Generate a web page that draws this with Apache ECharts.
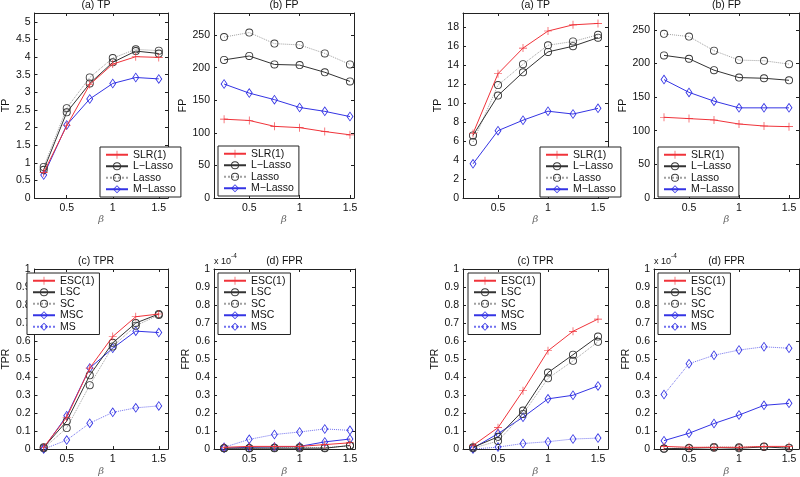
<!DOCTYPE html>
<html><head><meta charset="utf-8">
<script src="https://cdn.jsdelivr.net/npm/echarts@6/dist/echarts.min.js"></script>
<style>html,body{margin:0;padding:0;background:#fff}#c{width:800px;height:477px}</style>
</head><body><div id="c"></div>
<script>
// ---------- data ----------
const beta = [0.25, 0.5, 0.75, 1, 1.25, 1.5];
const xTicks = [0.5, 1, 1.5];
const yTicksTP1 = [0, 0.5, 1, 1.5, 2, 2.5, 3, 3.5, 4, 4.5, 5];
const yTicksFP = [0, 50, 100, 150, 200, 250];
const yTicksTP2 = [0, 2, 4, 6, 8, 10, 12, 14, 16, 18];
const yTicksRate = [0, 0.1, 0.2, 0.3, 0.4, 0.5, 0.6, 0.7, 0.8, 0.9, 1];

// (a) TP - left
const tp1_SLR = [0.72, 2.05, 3.22, 3.80, 4.01, 3.99];
const tp1_LLasso = [0.80, 2.43, 3.25, 3.85, 4.17, 4.10];
const tp1_Lasso = [0.88, 2.55, 3.42, 3.97, 4.22, 4.18];
const tp1_MLasso = [0.65, 2.07, 2.81, 3.25, 3.42, 3.38];
// (b) FP - left
const fp1_SLR = [121, 119, 110, 108, 102, 97];
const fp1_LLasso = [212, 218, 205, 204, 193, 179];
const fp1_Lasso = [247, 254, 237, 235, 222, 205];
const fp1_MLasso = [175, 161, 151, 139, 133, 125];
// (a) TP - right
const tp2_SLR = [6.8, 13.1, 15.8, 17.6, 18.25, 18.4];
const tp2_LLasso = [6.6, 10.8, 13.25, 15.4, 16.0, 16.9];
const tp2_Lasso = [5.9, 11.9, 14.1, 16.1, 16.5, 17.2];
const tp2_MLasso = [3.6, 7.1, 8.2, 9.15, 8.85, 9.45];
// (b) FP - right
const fp2_SLR = [120, 118, 116, 110, 107, 106];
const fp2_LLasso = [212, 207, 190, 179, 178, 175];
const fp2_Lasso = [244, 240, 219, 205, 204, 199];
const fp2_MLasso = [176, 157, 144, 134, 134, 134];
// (c) TPR - left
const tpr1_ESC = [0.01, 0.177, 0.45, 0.625, 0.735, 0.75];
const tpr1_LSC = [0.01, 0.155, 0.41, 0.59, 0.70, 0.75];
const tpr1_SC = [0.005, 0.117, 0.355, 0.57, 0.685, 0.745];
const tpr1_MSC = [0.005, 0.185, 0.45, 0.56, 0.655, 0.647];
const tpr1_MS = [0.0, 0.05, 0.144, 0.204, 0.229, 0.24];
// (d) FPR (x 10^-4) - left
const fpr1_ESC = [0.01, 0.015, 0.015, 0.015, 0.025, 0.035];
const fpr1_LSC = [0.005, 0.005, 0.005, 0.005, 0.005, 0.02];
const fpr1_SC = [0.005, 0.005, 0.008, 0.01, 0.008, 0.018];
const fpr1_MSC = [0.005, 0.01, 0.012, 0.015, 0.04, 0.056];
const fpr1_MS = [0.01, 0.054, 0.081, 0.095, 0.112, 0.104];
// (c) TPR - right
const tpr2_ESC = [0.02, 0.119, 0.324, 0.546, 0.654, 0.722];
const tpr2_LSC = [0.01, 0.068, 0.214, 0.425, 0.524, 0.625];
const tpr2_SC = [0.005, 0.045, 0.195, 0.393, 0.49, 0.596];
const tpr2_MSC = [0.005, 0.086, 0.177, 0.279, 0.299, 0.351];
const tpr2_MS = [0.0, 0.011, 0.031, 0.041, 0.056, 0.061];
// (d) FPR (x 10^-4) - right
const fpr2_ESC = [0.015, 0.01, 0.01, 0.01, 0.015, 0.015];
const fpr2_LSC = [0.002, 0.005, 0.008, 0.005, 0.012, 0.005];
const fpr2_SC = [0.003, 0.006, 0.012, 0.01, 0.015, 0.008];
const fpr2_MSC = [0.047, 0.088, 0.142, 0.189, 0.243, 0.254];
const fpr2_MS = [0.303, 0.474, 0.521, 0.55, 0.568, 0.56];

const namesTop = ['SLR(1)', 'L\u2212Lasso', 'Lasso', 'M\u2212Lasso'];
const namesBot = ['ESC(1)', 'LSC', 'SC', 'MSC', 'MS'];

// ---------- styles ----------
const FONT = 'Liberation Sans, Arial, sans-serif';
const RED = '#f0333a', BLK = '#333', GRY = '#a0a0a0', BLU = '#3434e4';
const PLUS = 'path://M4.6,0H5.4V4.6H10V5.4H5.4V10H4.6V5.4H0V4.6H4.6Z';
const RING = 'path://M5,0A5,5 0 1 1 5,10A5,5 0 1 1 5,0Z M5,1.1A3.9,3.9 0 1 0 5,8.9A3.9,3.9 0 1 0 5,1.1Z';
const DIAM = 'path://M5,0L10,5L5,10L0,5Z M5,1.3L1.6,5L5,8.7L8.4,5Z';
const styles = {
  red: {color: RED, symbol: PLUS, symbolSize: 8, type: 'solid', lc: RED},
  blkO: {color: BLK, symbol: RING, symbolSize: 8, type: 'solid', lc: BLK},
  gryO: {color: '#3a3a3a', symbol: RING, symbolSize: 8, type: 'dotted', lc: GRY},
  bluD: {color: BLU, symbol: DIAM, symbolSize: [7, 10], type: 'solid', lc: BLU},
  bluDd: {color: BLU, symbol: DIAM, symbolSize: [7, 10], type: 'dotted', lc: '#7070ee'}
};
const topStyles = ['red', 'blkO', 'gryO', 'bluD'];
const botStyles = ['red', 'blkO', 'gryO', 'bluD', 'bluDd'];

const panels = [
  {g: [24, 13, 144, 185], x: [0.15, 1.6], y: [0, 5.25], yt: yTicksTP1, title: '(a) TP', yn: 'TP', yg: 18, lg: [100, 147], names: namesTop, st: topStyles, d: [tp1_SLR, tp1_LLasso, tp1_Lasso, tp1_MLasso]},
  {g: [214, 13, 140, 185], x: [0.15, 1.54], y: [0, 284], yt: yTicksFP, title: '(b) FP', yn: 'FP', yg: 21, lg: [218, 146], names: namesTop, st: topStyles, d: [fp1_SLR, fp1_LLasso, fp1_Lasso, fp1_MLasso]},
  {g: [463, 13, 145, 185], x: [0.15, 1.6], y: [0, 19.5], yt: yTicksTP2, title: '(a) TP', yn: 'TP', yg: 17, lg: [540, 147], names: namesTop, st: topStyles, d: [tp2_SLR, tp2_LLasso, tp2_Lasso, tp2_MLasso]},
  {g: [654, 13, 145, 185], x: [0.15, 1.6], y: [0, 275], yt: yTicksFP, title: '(b) FP', yn: 'FP', yg: 24, lg: [658, 147], names: namesTop, st: topStyles, d: [fp2_SLR, fp2_LLasso, fp2_Lasso, fp2_MLasso]},
  {g: [24, 269, 144, 185], x: [0.15, 1.6], y: [0, 1], yt: yTicksRate, title: '(c) TPR', yn: 'TPR', yg: 19, lg: [27, 273], names: namesBot, st: botStyles, d: [tpr1_ESC, tpr1_LSC, tpr1_SC, tpr1_MSC, tpr1_MS]},
  {g: [214, 269, 141, 185], x: [0.15, 1.55], y: [0, 1], yt: yTicksRate, title: '(d) FPR', yn: 'FPR', yg: 21, lg: [218, 273], names: namesBot, st: botStyles, d: [fpr1_ESC, fpr1_LSC, fpr1_SC, fpr1_MSC, fpr1_MS], exp: true},
  {g: [463, 269, 145, 185], x: [0.15, 1.6], y: [0, 1], yt: yTicksRate, title: '(c) TPR', yn: 'TPR', yg: 21, lg: [468, 273], names: namesBot, st: botStyles, d: [tpr2_ESC, tpr2_LSC, tpr2_SC, tpr2_MSC, tpr2_MS]},
  {g: [654, 269, 145, 185], x: [0.15, 1.6], y: [0, 1], yt: yTicksRate, title: '(d) FPR', yn: 'FPR', yg: 22, lg: [658, 273], names: namesBot, st: botStyles, d: [fpr2_ESC, fpr2_LSC, fpr2_SC, fpr2_MSC, fpr2_MS], exp: true}
];

const grid = [], xAxis = [], yAxis = [], series = [], legend = [], title = [], graphic = [];
const axLine = {show: true, onZero: false, lineStyle: {color: '#222', width: 1}};
const tickIn = (vals) => ({show: true, inside: true, length: 3, customValues: vals, lineStyle: {color: '#222'}});
const lblStyle = {color: '#111', fontSize: 10.5, fontFamily: FONT};

panels.forEach((p, i) => {
  grid.push({left: p.g[0], top: p.g[1], width: p.g[2], height: p.g[3], show: false, containLabel: false});
  xAxis.push({type: 'value', gridIndex: i, min: p.x[0], max: p.x[1], position: 'bottom', axisLine: axLine,
    axisTick: tickIn(xTicks), splitLine: {show: false},
    axisLabel: Object.assign({customValues: xTicks, margin: 5}, lblStyle),
    name: '\u03b2', nameLocation: 'middle', nameGap: 16,
    nameTextStyle: {fontStyle: 'italic', color: '#666', fontSize: 10, fontFamily: 'DejaVu Serif, serif'}});
  xAxis.push({type: 'value', gridIndex: i, min: p.x[0], max: p.x[1], position: 'top', axisLine: axLine,
    axisTick: tickIn(xTicks), axisLabel: {show: false}, splitLine: {show: false}});
  yAxis.push({type: 'value', gridIndex: i, min: p.y[0], max: p.y[1], position: 'left', axisLine: axLine,
    axisTick: tickIn(p.yt), splitLine: {show: false},
    axisLabel: Object.assign({customValues: p.yt, margin: 4}, lblStyle),
    name: p.yn, nameLocation: 'middle', nameGap: p.yg,
    nameTextStyle: {color: '#111', fontSize: 10.5, fontFamily: FONT}});
  yAxis.push({type: 'value', gridIndex: i, min: p.y[0], max: p.y[1], position: 'right', axisLine: axLine,
    axisTick: tickIn(p.yt), axisLabel: {show: false}, splitLine: {show: false}});
  title.push({text: p.title, left: p.g[0] + p.g[2] / 2, top: p.g[1] - 13, textAlign: 'center',
    textStyle: {fontSize: 10.5, fontWeight: 'normal', color: '#111', fontFamily: FONT}, padding: 0});
  p.d.forEach((vals, k) => {
    const s = styles[p.st[k]];
    series.push({type: 'line', name: p.names[k], xAxisIndex: 2 * i, yAxisIndex: 2 * i,
      data: beta.map((b, j) => [b, vals[j]]),
      symbol: s.symbol, symbolSize: s.symbolSize, showAllSymbol: true,
      itemStyle: {color: s.color, borderWidth: 0},
      lineStyle: {color: s.lc, width: 1, type: s.type},
      animation: false, silent: true, z: 10 - k});
  });
  legend.push({left: p.lg[0], top: p.lg[1], orient: 'vertical', data: p.names,
    backgroundColor: '#fff', borderColor: '#222', borderWidth: 1, padding: [2, 5, 2, 5],
    itemWidth: 22, itemHeight: 10, itemGap: 0, selectedMode: false,
    textStyle: {fontSize: 10.5, lineHeight: 11.5, color: '#111', fontFamily: FONT}});
  if (p.exp) {
    graphic.push({type: 'text', left: p.g[0], top: p.g[1] - 12,
      style: {text: 'x 10', font: '9px ' + FONT, fill: '#111'}});
    graphic.push({type: 'text', left: p.g[0] + 17, top: p.g[1] - 16,
      style: {text: '-4', font: '6.5px ' + FONT, fill: '#111'}});
  }
});

const chart = echarts.init(document.getElementById('c'), null, {renderer: 'canvas'});
chart.setOption({animation: false, backgroundColor: '#fff', grid, xAxis, yAxis, series, legend, title, graphic});
</script></body></html>
